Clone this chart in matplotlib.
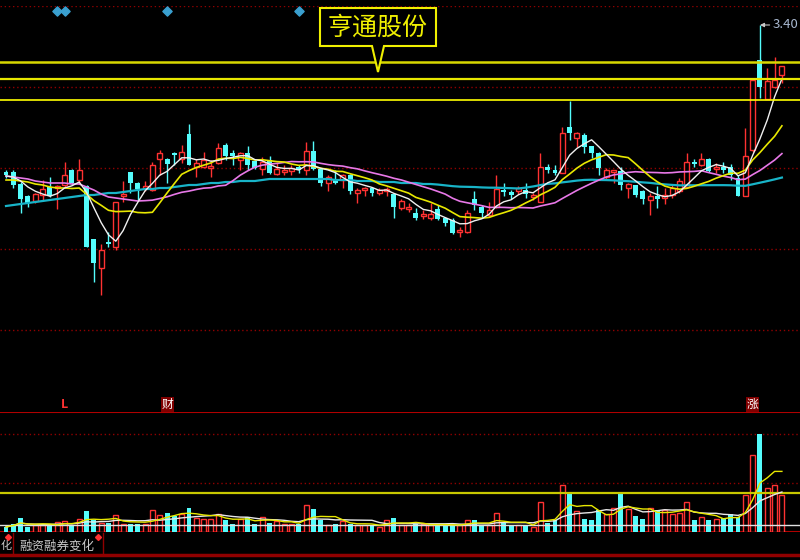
import matplotlib
matplotlib.use("Agg")
import matplotlib.pyplot as plt
import matplotlib.transforms as mtransforms
from matplotlib.lines import Line2D
from matplotlib.patches import Polygon
import numpy as np
import pandas as pd

plt.rcParams['font.family'] = ['Noto Sans CJK SC', 'DejaVu Sans']

# ---- daily bars, oldest first ----
opens = [2.812, 2.812, 2.764, 2.716, 2.696, 2.720, 2.752, 2.748, 2.760, 2.820,
         2.780, 2.756, 2.544, 2.428, 2.532, 2.512, 2.716, 2.812, 2.768, 2.748,
         2.740, 2.864, 2.864, 2.888, 2.864, 2.964, 2.832, 2.832, 2.828, 2.848,
         2.920, 2.888, 2.860, 2.888, 2.856, 2.824, 2.860, 2.804, 2.812, 2.816,
         2.832, 2.820, 2.896, 2.824, 2.768, 2.780, 2.780, 2.800, 2.728, 2.740,
         2.748, 2.728, 2.736, 2.724, 2.668, 2.664, 2.648, 2.636, 2.628, 2.664,
         2.628, 2.620, 2.572, 2.572, 2.704, 2.672, 2.640, 2.672, 2.740, 2.732,
         2.736, 2.740, 2.712, 2.692, 2.832, 2.820, 2.808, 2.992, 2.948, 2.960,
         2.916, 2.888, 2.792, 2.812, 2.816, 2.748, 2.760, 2.736, 2.700, 2.716,
         2.708, 2.720, 2.736, 2.752, 2.852, 2.840, 2.864, 2.824, 2.832, 2.832,
         2.788, 2.716, 2.900, 3.260, 3.104, 3.152, 3.200]
highs = [2.820, 2.820, 2.772, 2.720, 2.728, 2.780, 2.792, 2.760, 2.852, 2.824,
         2.864, 2.760, 2.544, 2.524, 2.572, 2.692, 2.776, 2.812, 2.772, 2.776,
         2.852, 2.900, 2.868, 2.892, 2.920, 3.004, 2.864, 2.892, 2.860, 2.928,
         2.928, 2.900, 2.892, 2.916, 2.860, 2.872, 2.876, 2.848, 2.840, 2.840,
         2.840, 2.932, 2.936, 2.828, 2.800, 2.820, 2.804, 2.804, 2.748, 2.752,
         2.752, 2.748, 2.752, 2.728, 2.704, 2.688, 2.668, 2.660, 2.688, 2.680,
         2.632, 2.628, 2.592, 2.660, 2.736, 2.680, 2.692, 2.800, 2.768, 2.740,
         2.756, 2.768, 2.728, 2.888, 2.844, 2.840, 2.992, 3.096, 2.972, 2.968,
         2.916, 2.892, 2.828, 2.820, 2.832, 2.768, 2.760, 2.740, 2.728, 2.756,
         2.748, 2.760, 2.788, 2.888, 2.864, 2.888, 2.868, 2.848, 2.852, 2.844,
         2.800, 2.988, 3.180, 3.400, 3.228, 3.272, 3.236]
lows = [2.788, 2.748, 2.648, 2.672, 2.688, 2.700, 2.712, 2.664, 2.752, 2.764,
        2.764, 2.512, 2.372, 2.320, 2.512, 2.500, 2.692, 2.728, 2.700, 2.736,
        2.736, 2.800, 2.768, 2.840, 2.848, 2.840, 2.792, 2.828, 2.792, 2.844,
        2.860, 2.840, 2.820, 2.820, 2.824, 2.800, 2.804, 2.800, 2.800, 2.800,
        2.808, 2.800, 2.820, 2.756, 2.736, 2.764, 2.748, 2.724, 2.688, 2.716,
        2.716, 2.720, 2.716, 2.628, 2.660, 2.652, 2.620, 2.624, 2.620, 2.620,
        2.596, 2.564, 2.552, 2.568, 2.660, 2.628, 2.632, 2.668, 2.716, 2.704,
        2.724, 2.708, 2.700, 2.692, 2.808, 2.800, 2.808, 2.940, 2.912, 2.888,
        2.868, 2.800, 2.784, 2.768, 2.740, 2.708, 2.712, 2.684, 2.640, 2.668,
        2.684, 2.708, 2.728, 2.748, 2.832, 2.836, 2.812, 2.808, 2.808, 2.780,
        2.716, 2.716, 2.892, 3.108, 3.104, 3.148, 3.168]
closes = [2.800, 2.760, 2.704, 2.688, 2.724, 2.744, 2.716, 2.756, 2.800, 2.768,
          2.820, 2.512, 2.448, 2.500, 2.524, 2.692, 2.724, 2.768, 2.744, 2.756,
          2.840, 2.888, 2.844, 2.880, 2.892, 2.840, 2.848, 2.860, 2.836, 2.908,
          2.876, 2.876, 2.888, 2.840, 2.828, 2.852, 2.808, 2.824, 2.820, 2.828,
          2.820, 2.896, 2.824, 2.768, 2.792, 2.768, 2.800, 2.736, 2.740, 2.748,
          2.728, 2.740, 2.744, 2.672, 2.696, 2.672, 2.628, 2.644, 2.644, 2.624,
          2.608, 2.568, 2.580, 2.648, 2.680, 2.648, 2.660, 2.744, 2.732, 2.720,
          2.748, 2.724, 2.720, 2.832, 2.820, 2.808, 2.968, 2.968, 2.968, 2.912,
          2.888, 2.828, 2.820, 2.820, 2.760, 2.764, 2.720, 2.704, 2.716, 2.704,
          2.720, 2.748, 2.776, 2.852, 2.844, 2.864, 2.816, 2.832, 2.820, 2.800,
          2.716, 2.876, 3.180, 3.152, 3.176, 3.180, 3.236]
# volume, 万手
volumes = [5, 8, 14, 5, 7, 7, 7, 10, 11, 7,
           13, 21, 12, 9, 9, 17, 8, 8, 8, 8,
           22, 17, 19, 16, 18, 24, 14, 13, 13, 18,
           12, 8, 13, 15, 8, 15, 9, 11, 8, 8,
           8, 27, 23, 12, 7, 8, 11, 8, 7, 7,
           7, 5, 12, 14, 7, 7, 8, 8, 7, 7,
           7, 7, 7, 12, 12, 7, 7, 19, 9, 7,
           7, 7, 5, 30, 9, 12, 47, 39, 21, 13,
           12, 22, 18, 24, 39, 23, 16, 13, 24, 22,
           22, 18, 19, 30, 12, 15, 12, 13, 14, 18,
           15, 37, 77, 98, 44, 47, 37]

# moving averages before their window fills (history off-screen)
ma5_head = [2.796, 2.792, 2.776, 2.752]
ma10_head = [2.780, 2.780, 2.776, 2.772, 2.764, 2.760, 2.752, 2.748, 2.748]
ma20_head = [2.796, 2.792, 2.788, 2.784, 2.776, 2.772, 2.768, 2.768, 2.768, 2.764,
             2.764, 2.752, 2.740, 2.724, 2.712, 2.708, 2.704, 2.700, 2.696]
ma60_head = [2.676, 2.680, 2.684, 2.688, 2.692, 2.696, 2.700, 2.704, 2.708, 2.712,
             2.716, 2.720, 2.720, 2.724, 2.728, 2.728, 2.732, 2.736, 2.740, 2.744,
             2.744, 2.748, 2.748, 2.752, 2.756, 2.760, 2.760, 2.764, 2.768, 2.768,
             2.772, 2.772, 2.776, 2.776, 2.776, 2.780, 2.784, 2.784, 2.784, 2.784,
             2.784, 2.784, 2.784, 2.784, 2.784, 2.780, 2.780, 2.780, 2.776, 2.776,
             2.776, 2.772, 2.772, 2.772, 2.768, 2.768, 2.768, 2.764, 2.764]

# drawn lines and markers
hlines_main = [3.252, 3.184, 3.100]
vol_yellow_level = 39
vol_white_level = 7
diamond_idx = [7, 8, 22, 40]
marks = [(8, "L"), (22, "财"), (102, "涨")]
stock_name = "亨通股份"
tab_label = "融资融券变化"

RED = "#ff3232"
CYAN = "#54fcfc"
GRID = "#900000"
BG = "black"

o, h, l, c = (np.array(a) for a in (opens, highs, lows, closes))
x = np.arange(len(c))
up = c >= o

close_s = pd.Series(c)


def moving_avg(n, head):
    ma = close_s.rolling(n).mean().to_numpy()
    ma[:len(head)] = head
    return ma


vol_s = pd.Series(volumes, dtype=float)
vma5 = vol_s.rolling(5, min_periods=1).mean()
vma10 = vol_s.rolling(10, min_periods=1).mean()

fig = plt.figure(figsize=(8, 5.6), dpi=100, facecolor=BG)
px = mtransforms.Affine2D().scale(1 / 800, -1 / 560).translate(0, 1) + fig.transFigure

xlim = (-0.82, 108.47)

# ── price panel ──
ax = fig.add_axes([0, 149 / 560, 1, 405 / 560], facecolor=BG)
ymin, ymax = 1.856, 3.476
ax.set_xlim(*xlim); ax.set_ylim(ymin, ymax)
ax.set_axis_off()
for lv in np.linspace(ymin, ymax, 6)[1:]:
    ax.axhline(lv, color=GRID, ls=(0, (1, 2)), lw=1.0, zorder=0)

width = 0.68
lo = np.minimum(o, c); hi = np.maximum(o, c)
bh = np.maximum(hi - lo, 0.003)
ax.vlines(x[up], hi[up], h[up], color=RED, lw=1.0, zorder=2)
ax.vlines(x[up], l[up], lo[up], color=RED, lw=1.0, zorder=2)
ax.bar(x[up], bh[up], bottom=lo[up], width=width, facecolor=BG, edgecolor=RED, lw=1.0, zorder=2)
ax.vlines(x[~up], l[~up], h[~up], color=CYAN, lw=1.0, zorder=2)
ax.bar(x[~up], bh[~up], bottom=lo[~up], width=width, color=CYAN, lw=0, zorder=2)

ax.plot(x, moving_avg(60, ma60_head), color="#18b4c8", lw=1.6, zorder=3)
ax.plot(x, moving_avg(20, ma20_head), color="#e878e8", lw=1.2, zorder=3)
ax.plot(x, moving_avg(10, ma10_head), color="#e8e800", lw=1.2, zorder=3)
ax.plot(x, moving_avg(5, ma5_head), color="#f0f0f0", lw=1.0, zorder=3)

ax.axhline(hlines_main[0], color="#d8d800", lw=1.8, zorder=4)
ax.axhline(hlines_main[1], color="#e8e800", lw=1.6, zorder=4)
ax.axhline(hlines_main[2], color="#ffff00", lw=1.2, zorder=4)

top = mtransforms.blended_transform_factory(ax.transData, ax.transAxes)
ax.scatter(diamond_idx, [0.988] * len(diamond_idx), marker="D", s=22,
           color="#3aa0d0", transform=top, zorder=5, clip_on=False)
for idx, txt in marks:
    if txt == "L":
        ax.text(idx, 0.016, txt, transform=top, color=RED, fontsize=9, fontweight="bold",
                ha="center", va="center")
    else:
        ax.text(idx, 0.016, txt, transform=top, color="white", fontsize=8.5,
                ha="center", va="center",
                bbox=dict(boxstyle="square,pad=0.05", fc="#800000", ec="none"))

i_top = int(np.argmax(h))
ax.annotate(f"{h[i_top]:.2f}", xy=(i_top, h[i_top]), xytext=(i_top + 1.7, h[i_top]),
            color="#a8b8d0", fontsize=9.5, ha="left", va="center",
            arrowprops=dict(arrowstyle="-|>", color="#c8c8c8", lw=0.8,
                            shrinkA=0, shrinkB=0, mutation_scale=6))

# callout with the stock name
callout = Polygon([(320, 8), (436, 8), (436, 46), (384, 46), (378, 72), (372, 46), (320, 46)],
                  closed=True, transform=px, fc=BG, ec="#f0f000", lw=1.5, zorder=6)
fig.add_artist(callout)
fig.text(378 / 800, 1 - 28 / 560, stock_name, color="#f0f000", fontsize=18,
         ha="center", va="center", zorder=7)

# ── volume panel ──
axv = fig.add_axes([0, 28 / 560, 1, 120 / 560], facecolor=BG)
axv.set_xlim(*xlim); axv.set_ylim(0, 120)
axv.set_axis_off()
axv.axhline(120, color="#b00000", lw=1.5)
axv.axhline(0.5, color="#b00000", lw=1.5)
for lv in (49, 98):
    axv.axhline(lv, color=GRID, ls=(0, (1, 2)), lw=1.0, zorder=0)
v = np.array(volumes, dtype=float)
axv.bar(x[up], v[up], width=width, facecolor=BG, edgecolor=RED, lw=1.0, zorder=2)
axv.bar(x[~up], v[~up], width=width, color=CYAN, lw=0, zorder=2)
axv.axhline(vol_white_level, color="#e0e0e0", lw=1.0, zorder=3)
axv.axhline(vol_yellow_level, color="#c8c800", lw=1.6, zorder=3)
axv.plot(x, vma10, color="#e8e8e8", lw=1.0, zorder=4)
axv.plot(x, vma5, color="#e8e800", lw=1.0, zorder=4)

# ── tab strip ──
fig.add_artist(Line2D([0, 1], [1 - 555 / 560] * 2, transform=fig.transFigure,
                      color="#900000", lw=2.5))
for sx in (13, 103):
    fig.add_artist(Line2D([sx, sx], [533, 554], transform=px, color="#900000", lw=1.0))
for sx in (8, 98):
    fig.add_artist(Line2D([sx], [537], transform=px, marker="D", ms=3, color=RED, lw=0))
fig.text(0.5 / 800, 1 - 546 / 560, "化", color="#c8c8c8", fontsize=8, ha="left", va="center")
fig.text(19 / 800, 1 - 546 / 560, tab_label, color="#c8c8c8", fontsize=9, ha="left", va="center")

fig.savefig("out.png", dpi=100, facecolor=BG)
